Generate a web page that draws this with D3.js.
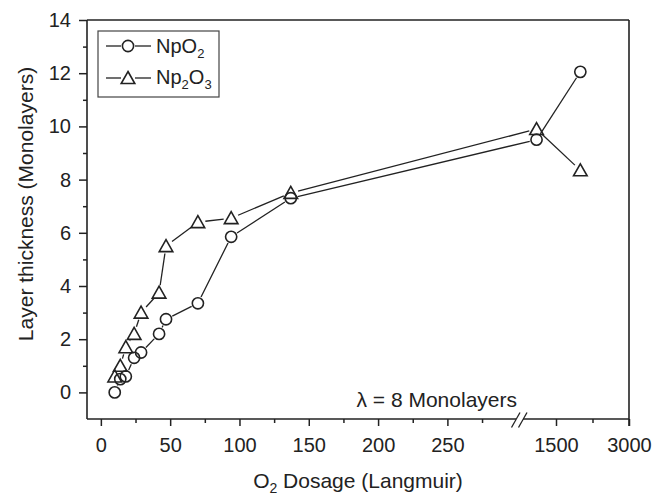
<!DOCTYPE html>
<html>
<head>
<meta charset="utf-8">
<script src="https://cdnjs.cloudflare.com/ajax/libs/d3/7.8.5/d3.min.js"></script>
<style>
  body { margin: 0; background: #fff; }
  svg text { font-family: Arial, "Liberation Sans", sans-serif; fill: #222; }
</style>
</head>
<body>
<div id="chart"></div>
<script>
// O2 dosage (Langmuir) and layer thickness (monolayers)
var dosage = [10, 14, 18, 24, 29, 42, 47, 70, 94, 137, 1100, 2000];
var npo2   = [0, 0.5, 0.6, 1.3, 1.5, 2.2, 2.75, 3.35, 5.85, 7.3, 9.5, 12.05];
var np2o3  = [0.6, 1.0, 1.7, 2.2, 3.0, 3.75, 5.5, 6.4, 6.55, 7.5, 9.9, 8.35];

var xTicksLeft = [0, 50, 100, 150, 200, 250];
var xMinorLeft = [25, 75, 125, 175, 225, 275];
var xTicksRight = [1500, 3000];
var xMinorRight = [2250];
var yTicks = [0, 2, 4, 6, 8, 10, 12, 14];
var yMinor = [1, 3, 5, 7, 9, 11, 13];

var width = 672, height = 496;
var pLeft = 87, pRight = 629, pTop = 20, pBottom = 419;
var breakAt = 300;

var svg = d3.select('#chart').append('svg').attr('width', width).attr('height', height);

// broken x axis: two linear pieces
var xL = d3.scaleLinear().domain([-10, breakAt]).range([pLeft, 516.7]);
var xR = d3.scaleLinear().domain([900, 3000]).range([526.8, pRight]);
function x(v) { return v <= breakAt ? xL(v) : xR(v); }
var y = d3.scaleLinear().domain([-1, 14]).range([pBottom, pTop]);

var ink = '#222';
var fmt = d3.format('d');

function styleAxis(g) {
    g.select('.domain').remove();
    g.selectAll('line').attr('stroke', ink).attr('stroke-width', 1.5);
    g.selectAll('text').attr('font-size', 20).attr('fill', ink);
}

// x axis, left piece
svg.append('g').attr('transform', 'translate(0,' + pBottom + ')')
    .call(d3.axisBottom(xL).tickValues(xTicksLeft).tickFormat(fmt).tickSize(7).tickPadding(12)).call(styleAxis);
svg.append('g').attr('transform', 'translate(0,' + pBottom + ')')
    .call(d3.axisBottom(xL).tickValues(xMinorLeft).tickSize(4).tickFormat('')).call(styleAxis);
// x axis, right piece
svg.append('g').attr('transform', 'translate(0,' + pBottom + ')')
    .call(d3.axisBottom(xR).tickValues(xTicksRight).tickFormat(fmt).tickSize(7).tickPadding(12)).call(styleAxis);
svg.append('g').attr('transform', 'translate(0,' + pBottom + ')')
    .call(d3.axisBottom(xR).tickValues(xMinorRight).tickSize(4).tickFormat('')).call(styleAxis);

// y axis
svg.append('g').attr('transform', 'translate(' + pLeft + ',0)')
    .call(d3.axisLeft(y).tickValues(yTicks).tickFormat(fmt).tickSize(8).tickPadding(8)).call(styleAxis);
svg.append('g').attr('transform', 'translate(' + pLeft + ',0)')
    .call(d3.axisLeft(y).tickValues(yMinor).tickSize(4).tickFormat('')).call(styleAxis);

// frame
var frame = svg.append('g').attr('stroke', ink).attr('stroke-width', 1.6).attr('fill', 'none');
frame.append('line').attr('x1', pLeft).attr('x2', pLeft).attr('y1', pTop).attr('y2', pBottom);
frame.append('line').attr('x1', pRight).attr('x2', pRight).attr('y1', pTop).attr('y2', pBottom + 7);
frame.append('line').attr('x1', pLeft).attr('x2', pRight).attr('y1', pTop).attr('y2', pTop);
frame.append('line').attr('x1', pLeft).attr('x2', 516).attr('y1', pBottom).attr('y2', pBottom);
frame.append('line').attr('x1', 523).attr('x2', pRight).attr('y1', pBottom).attr('y2', pBottom);
// break marks
frame.append('line').attr('x1', 511.5).attr('y1', 427.5).attr('x2', 520).attr('y2', 412.5).attr('stroke-width', 1.3);
frame.append('line').attr('x1', 518.5).attr('y1', 427.5).attr('x2', 527).attr('y2', 412.5).attr('stroke-width', 1.3);

// lines with gaps round the markers
function gappedLine(vals, gap) {
    var pts = dosage.map(function (d, i) { return [x(d), y(vals[i])]; });
    for (var i = 0; i < pts.length - 1; i++) {
        var a = pts[i], b = pts[i + 1];
        var dx = b[0] - a[0], dy = b[1] - a[1];
        var len = Math.sqrt(dx * dx + dy * dy);
        if (len <= 2 * gap) continue;
        var ux = dx / len, uy = dy / len;
        svg.append('line')
            .attr('x1', a[0] + ux * gap).attr('y1', a[1] + uy * gap)
            .attr('x2', b[0] - ux * gap).attr('y2', b[1] - uy * gap)
            .attr('stroke', ink).attr('stroke-width', 1.3);
    }
}
gappedLine(npo2, 7);
gappedLine(np2o3, 7.5);

var triPath = 'M0,-7.5L6.8,4.5L-6.8,4.5Z';

svg.append('g').selectAll('circle').data(dosage).enter().append('circle')
    .attr('cx', function (d) { return x(d); })
    .attr('cy', function (d, i) { return y(npo2[i]); })
    .attr('r', 5.6)
    .attr('fill', 'none').attr('stroke', ink).attr('stroke-width', 1.6);

svg.append('g').selectAll('path').data(dosage).enter().append('path')
    .attr('d', triPath)
    .attr('transform', function (d, i) { return 'translate(' + x(d) + ',' + (y(np2o3[i]) + 1) + ')'; })
    .attr('fill', 'none').attr('stroke', ink).attr('stroke-width', 1.6);

// legend
var lg = svg.append('g');
lg.append('rect').attr('x', 98).attr('y', 31).attr('width', 121).attr('height', 66)
    .attr('fill', 'none').attr('stroke', '#444').attr('stroke-width', 1.2);
[[46, 'c'], [78, 't']].forEach(function (row) {
    var cy = row[0];
    lg.append('line').attr('x1', 106).attr('x2', 121).attr('y1', cy).attr('y2', cy).attr('stroke', ink).attr('stroke-width', 1.3);
    lg.append('line').attr('x1', 135).attr('x2', 151).attr('y1', cy).attr('y2', cy).attr('stroke', ink).attr('stroke-width', 1.3);
    if (row[1] == 'c') {
        lg.append('circle').attr('cx', 128).attr('cy', cy).attr('r', 5.6)
            .attr('fill', 'none').attr('stroke', ink).attr('stroke-width', 1.6);
    } else {
        lg.append('path').attr('d', triPath).attr('transform', 'translate(128,' + (cy + 1) + ')')
            .attr('fill', 'none').attr('stroke', ink).attr('stroke-width', 1.6);
    }
});
var t1 = lg.append('text').attr('x', 156).attr('y', 53).attr('font-size', 20);
t1.append('tspan').text('NpO');
t1.append('tspan').attr('font-size', 13).attr('dy', 5).text('2');
var t2 = lg.append('text').attr('x', 156).attr('y', 84).attr('font-size', 20);
t2.append('tspan').text('Np');
t2.append('tspan').attr('font-size', 13).attr('dy', 5).text('2');
t2.append('tspan').attr('dy', -5).text('O');
t2.append('tspan').attr('font-size', 13).attr('dy', 5).text('3');

// annotation
svg.append('text').attr('x', 517).attr('y', 407).attr('text-anchor', 'end')
    .attr('font-size', 21).text('λ = 8 Monolayers');

// axis titles
var xt = svg.append('text').attr('x', (pLeft + pRight) / 2).attr('y', 488)
    .attr('text-anchor', 'middle').attr('font-size', 21);
xt.append('tspan').text('O');
xt.append('tspan').attr('font-size', 14).attr('dy', 5).text('2');
xt.append('tspan').attr('dy', -5).text(' Dosage (Langmuir)');

svg.append('text').attr('transform', 'translate(33,204) rotate(-90)')
    .attr('text-anchor', 'middle').attr('font-size', 21).text('Layer thickness (Monolayers)');
</script>
</body>
</html>
